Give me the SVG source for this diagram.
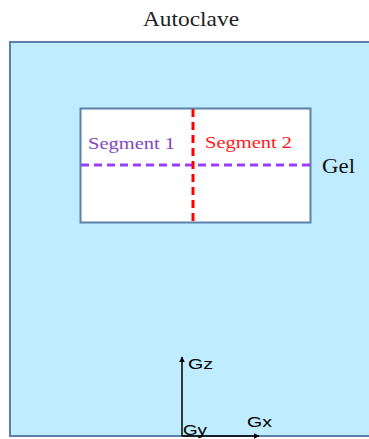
<svg xmlns="http://www.w3.org/2000/svg" width="369" height="439" viewBox="0 0 369 439">
<defs>
<style>
.serif{font-family:"Liberation Serif","DejaVu Serif",serif}
.sans{font-family:"Liberation Sans",Arial,sans-serif;font-size:15px;fill:#000}
.axis{stroke:#000;stroke-width:1.5;fill:none}
</style>
<marker id="arr" viewBox="0 0 10 10" refX="9" refY="5" markerWidth="6" markerHeight="6" orient="auto" markerUnits="userSpaceOnUse">
<path d="M0,0 L10,5 L0,10 z" fill="#000"/>
</marker>
</defs>
<rect width="369" height="439" fill="#fff"/>
<g id="title"><text class="serif" x="143" y="26" font-size="22" textLength="96" lengthAdjust="spacingAndGlyphs" fill="#222">Autoclave</text></g>
<g id="autoclave"><rect x="10" y="42" width="370" height="394" fill="#bfedff" stroke="#5b80a9" stroke-width="2"/></g>
<g id="gel">
<rect x="80.5" y="108.5" width="230" height="114" fill="#fff" stroke="#5b80a9" stroke-width="2"/>
<text class="serif" x="322" y="173" font-size="21" textLength="33" lengthAdjust="spacingAndGlyphs" fill="#111">Gel</text>
</g>
<g id="segment1"><text class="serif" x="88" y="149" font-size="17" textLength="87" lengthAdjust="spacingAndGlyphs" fill="#8446c0">Segment 1</text></g>
<g id="segment2"><text class="serif" x="205" y="148" font-size="17" textLength="87" lengthAdjust="spacingAndGlyphs" fill="#ff1a1a">Segment 2</text></g>
<g id="connectors">
<line x1="81" y1="165" x2="310" y2="165" stroke="#9b3dff" stroke-width="3" stroke-dasharray="8,5"/>
<line x1="193" y1="109" x2="193" y2="223" stroke="#ff0000" stroke-width="3" stroke-dasharray="8,5"/>
<line class="axis" x1="182" y1="436" x2="182" y2="357" marker-end="url(#arr)"/>
<line class="axis" x1="182" y1="436" x2="259" y2="436" marker-end="url(#arr)"/>
</g>
<g id="axes-labels">
<text class="sans" x="188" y="369" textLength="25" lengthAdjust="spacingAndGlyphs">Gz</text>
<text class="sans" x="247" y="427" textLength="25" lengthAdjust="spacingAndGlyphs">Gx</text>
<text class="sans" x="183" y="435" textLength="24" lengthAdjust="spacingAndGlyphs">Gy</text>
</g>
</svg>
